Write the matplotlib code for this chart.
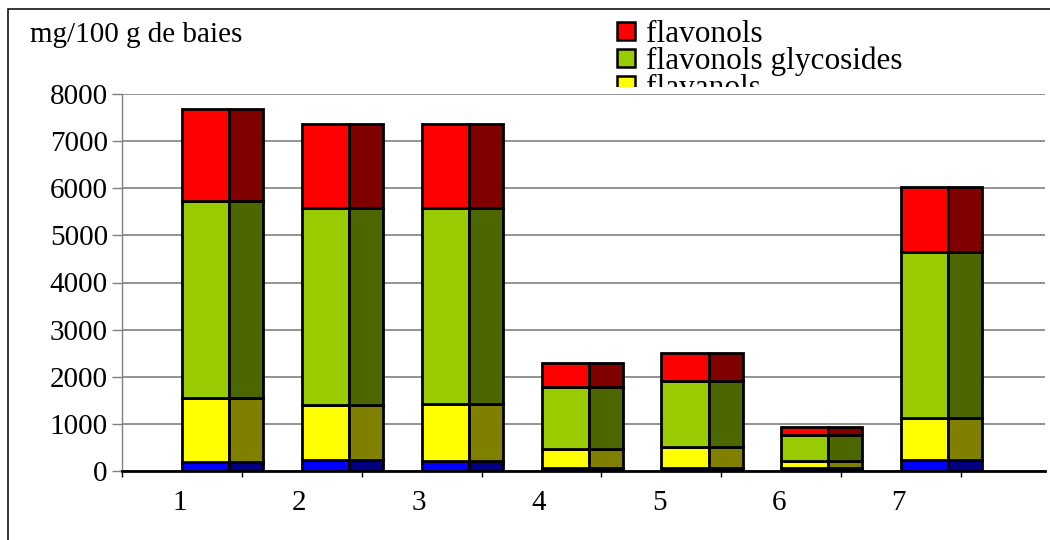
import numpy as np
import matplotlib
matplotlib.use("Agg")
import matplotlib.pyplot as plt
from matplotlib.patches import Rectangle
from matplotlib.transforms import Bbox

plt.rcParams['font.family'] = ['Liberation Serif', 'DejaVu Serif']

# mg/100 g of berries, per sample (stacked bottom to top)
samples = ['1', '2', '3', '4', '5', '6', '7']
blue_part = [185, 227, 206, 60, 60, 60, 227]
flavanols = [1365, 1183, 1217, 401, 450, 146, 898]
flavonol_glyc = [4177, 4175, 4149, 1323, 1395, 567, 3526]
flavonols = [1948, 1784, 1791, 518, 609, 161, 1367]

legend_labels = ['flavonols', 'flavonols glycosides', 'flavanols']
legend_colors = ['#ff0000', '#99cc00', '#ffff00']

series = [blue_part, flavanols, flavonol_glyc, flavonols]
light = ['#0000ff', '#ffff00', '#99cc00', '#ff0000']
dark = ['#000080', '#808000', '#4c6600', '#800000']

W, H = 1050, 540
fig = plt.figure(figsize=(W / 100, H / 100), dpi=100)

# outer frame of the chart object (runs off the right/bottom edge)
fig.add_artist(Rectangle((8 / W, -0.1), 1.2, 1 - 9 / H + 0.1, fill=False,
                         edgecolor='black', lw=1.1, transform=fig.transFigure))

ax = fig.add_axes([122 / W, 1 - 471 / H, (1045 - 122) / W, (471 - 94) / H])

x = np.arange(1, len(samples) + 1)
w_left, w_right = 0.393, 0.284
bottom = np.zeros(len(samples))
for vals, c1, c2 in zip(series, light, dark):
    vals = np.array(vals, dtype=float)
    ax.bar(x, vals, width=w_left, bottom=bottom, align='edge', color=c1,
           edgecolor='black', linewidth=2, zorder=3)
    ax.bar(x + w_left, vals, width=w_right, bottom=bottom, align='edge', color=c2,
           edgecolor='black', linewidth=2, zorder=3)
    bottom += vals

ax.set_xlim(0.5, 8.2)
ax.set_ylim(0, 8000)
ax.set_yticks(np.arange(0, 8001, 1000))
ax.yaxis.grid(True, color='#808080', lw=1.2)
ax.set_axisbelow(True)

ax.set_xticks(np.arange(0.5, 8, 1.0))
ax.set_xticklabels([])
ax.set_xticks(x - 0.02, minor=True)
ax.set_xticklabels(samples, minor=True)
ax.tick_params(axis='x', which='major', direction='out', length=4.3, width=1, color='black')
ax.tick_params(axis='x', which='minor', length=0, pad=14, labelsize=21)
ax.tick_params(axis='y', direction='out', length=7.2, width=1, color='#808080',
               pad=3, labelsize=21)

for s in ['top', 'right']:
    ax.spines[s].set_visible(False)
ax.spines['left'].set_color('#808080')
ax.spines['left'].set_linewidth(1)
ax.spines['bottom'].set_color('black')
ax.spines['bottom'].set_linewidth(2)

fig.text(30 / W, 1 - 42 / H, 'mg/100 g de baies', fontsize=21, va='baseline')

# legend box, cut off just above the plot area
clip = Bbox.from_extents(0, H - 87, W, H)
for i, (lab, col) in enumerate(zip(legend_labels, legend_colors)):
    top = 22 + 27 * i
    r = Rectangle((617 / W, 1 - (top + 18) / H), 18 / W, 18 / H, facecolor=col,
                  edgecolor='black', lw=1.8, transform=fig.transFigure)
    fig.add_artist(r)
    r.set_clip_box(clip)
    t = fig.text(646 / W, 1 - (top + 20) / H, lab, fontsize=22.5, va='baseline')
    t.set_clip_box(clip)
    t.set_clip_on(True)

fig.savefig('out.png', dpi=100)
